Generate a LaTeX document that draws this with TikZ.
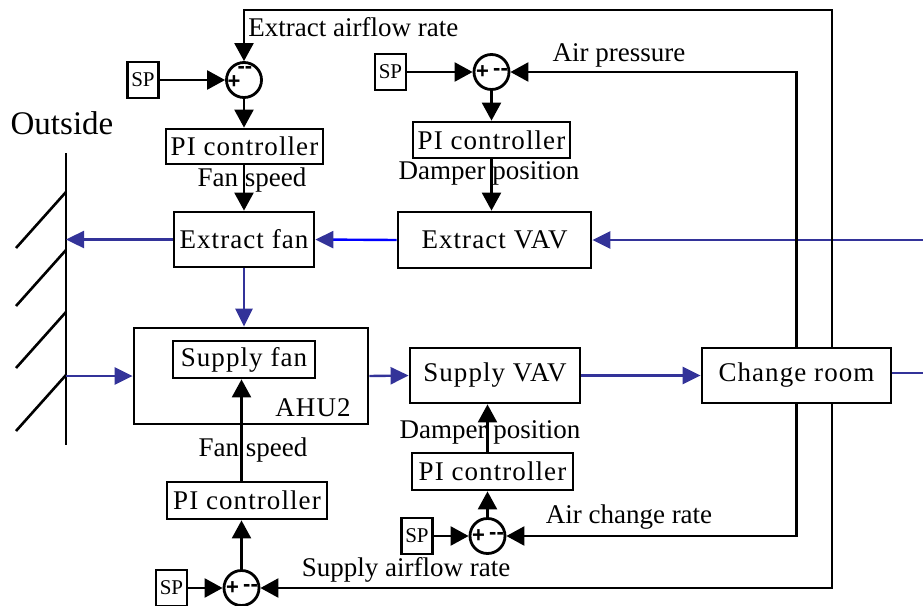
\documentclass[tikz,border=0pt]{standalone}
\usepackage{fontspec}
\setmainfont{Liberation Serif}
\newfontfamily\signfont{Liberation Sans}
\usetikzlibrary{arrows.meta,positioning,calc}
\definecolor{flowblue}{RGB}{51,51,153}
\definecolor{linkblue}{RGB}{0,0,255}

\begin{document}
\begin{tikzpicture}[
  x=0.5pt, y=-0.5pt,
  font=\fontsize{13.5}{16}\selectfont,
  box/.style={draw, line width=1.4pt, fill=white, inner sep=0pt,
      font=\fontsize{13.5}{16}\selectfont\addfontfeature{LetterSpace=4}},
  spbox/.style={draw, line width=1.2pt, inner sep=0pt,
      minimum width=15.5pt, minimum height=18pt,
      font=\fontsize{10.5}{12}\selectfont},
  sum/.style={draw, circle, line width=1.4pt, inner sep=0pt,
      minimum size=17.5pt},
  sgn/.style={inner sep=0pt, font=\signfont\bfseries\fontsize{11}{11}\selectfont},
  sig/.style={-{Triangle[length=9pt, width=9.5pt]}, line width=1.2pt},
  flow/.style={-{Triangle[length=9pt, width=8.5pt]}, draw=flowblue,
      line width=1.2pt},
  lbl/.style={inner sep=0pt}
]
\useasboundingbox (0,0) rectangle (923,606);

% outside wall
\node[font=\fontsize{16.5}{20}\selectfont] (outside) at (62,123) {Outside};
\draw[line width=1.3pt] (66,153) -- (66,445);
\foreach \y in {192,250,312,375}
  \draw[line width=1.3pt] (66,\y) -- ++(-50,56);
\coordinate (wall) at (66,0);
\coordinate (ein) at (923,240);
\coordinate (eout) at (923,0);
\coordinate (ytop) at (0,10);
\coordinate (xout) at (832,0);

% plant
\node[box, minimum width=70pt, minimum height=27.5pt] (efan) at (244,239.5) {Extract fan};
\node[box, minimum width=96.5pt, minimum height=28pt] (evav) at (494.5,240) {Extract VAV};
\node[draw, line width=1.4pt, minimum width=117pt, minimum height=48pt] (ahu) at (251,376) {};
\node[box, minimum width=71pt, minimum height=18.5pt] (sfan) at (244,359.5) {Supply fan};
\node[lbl, font=\fontsize{13.5}{16}\selectfont\addfontfeature{LetterSpace=4}] (ahulbl) at (313,408) {AHU2};
\node[box, minimum width=85pt, minimum height=27.5pt] (svav) at (495,375.5) {Supply VAV};
\node[box, minimum width=94.5pt, minimum height=27.5pt] (room) at (796.5,375.5) {Change room};

% extract fan loop
\node[spbox] (sp1) at (143,80) {SP};
\node[sum] (sum1) at (244,80) {};
\node[sgn] at ([shift={(-10,2)}]sum1.center) {+};
\node[sgn] at ([shift={(1,-10)}]sum1.center) {--};
\node[box, minimum width=78.5pt, minimum height=17.5pt] (pi1) at (244.5,146.5) {PI controller};
\node[lbl] (fs1) at (252,180) {Fan speed};
\node[lbl, anchor=west] (eaf) at (248,27) {Extract airflow rate};

% extract VAV loop
\node[spbox] (sp2) at (390.5,72) {SP};
\node[sum] (sum2) at (491.5,72) {};
\node[sgn] at ([shift={(-9,0)}]sum2.center) {+};
\node[sgn] at ([shift={(9,0)}]sum2.center) {--};
\node[box, minimum width=78.5pt, minimum height=18pt] (pi2) at (491.5,140) {PI controller};
\node[lbl] (dp1) at (489,173) {Damper position};
\node[lbl] (ap) at (619,55) {Air pressure};

% supply fan loop
\node[spbox] (sp3) at (171.5,588) {SP};
\node[sum] (sum3) at (241.5,588) {};
\node[sgn] at ([shift={(-9,0)}]sum3.center) {+};
\node[sgn] at ([shift={(9,0)}]sum3.center) {--};
\node[box, minimum width=80pt, minimum height=18.5pt] (pi3) at (247,500.5) {PI controller};
\node[lbl] (fs2) at (253,450) {Fan speed};
\node[lbl] (saf) at (406,570) {Supply airflow rate};

% supply VAV loop
\node[spbox] (sp4) at (417,536) {SP};
\node[sum] (sum4) at (487.5,536) {};
\node[sgn] at ([shift={(-9,0)}]sum4.center) {+};
\node[sgn] at ([shift={(9,0)}]sum4.center) {--};
\node[box, minimum width=80.5pt, minimum height=18.5pt] (pi4) at (492.5,471.5) {PI controller};
\node[lbl] (dp2) at (490,432) {Damper position};
\node[lbl] (acr) at (629,517) {Air change rate};

% air flows
\draw[flow] (efan.west) -- (efan.west -| wall);
\draw[flow, draw=linkblue, -{Triangle[length=9pt, width=8.5pt, color=flowblue]}] (evav.west) -- (efan.east);
\draw[flow] (ein) -- (evav.east);
\draw[flow] (efan.south) -- (efan.south |- ahu.north);
\draw[flow] (ahu.west -| wall) -- (ahu.west);
\draw[flow] (ahu.east) -- (svav.west);
\draw[flow] (svav.east) -- (room.west);
\draw[draw=flowblue, line width=1.2pt] ([yshift=1.25pt]room.east) -- ([yshift=1.25pt]room.east -| eout);

% signals
\draw[sig] (sp1) -- (sum1);
\draw[sig] (sum1) -- (pi1.north -| sum1);
\draw[sig] (pi1.south -| sum1) -- (efan.north -| sum1);
\draw[sig] (room.north -| xout) |- (sum1 |- ytop) -- (sum1);

\draw[sig] (sp2) -- (sum2);
\draw[sig] (room.north) |- (sum2);
\draw[sig] (sum2) -- (pi2.north);
\draw[sig] (pi2.south) -- (pi2.south |- evav.north);

\draw[sig] (sp3) -- (sum3);
\draw[sig] (room.south -| xout) |- (sum3);
\draw[sig] (sum3) -- (pi3.south -| sum3);
\draw[sig] (pi3.north -| sum3) -- (sfan.south -| sum3);

\draw[sig] (sp4) -- (sum4);
\draw[sig] (room.south) |- (sum4);
\draw[sig] (sum4) -- (pi4.south -| sum4);
\draw[sig] (pi4.north -| sum4) -- (svav.south -| sum4);
\end{tikzpicture}
\end{document}
